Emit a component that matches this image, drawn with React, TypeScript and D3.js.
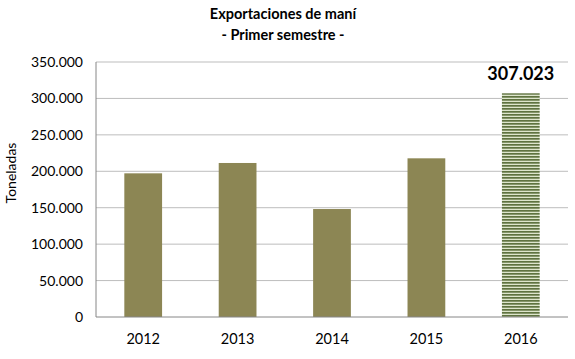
import React from "react";
import * as d3 from "d3";

const years = ["2012", "2013", "2014", "2015", "2016"];
const values = [197200, 211400, 148200, 217800, 307023];
const yTicks = [0, 50000, 100000, 150000, 200000, 250000, 300000, 350000];
const highlightLabel = "307.023";

const W = 575, H = 359;
const left = 96, right = 568, top = 62, bottom = 317;

const fmt = (v: number) => (v === 0 ? "0" : d3.format(",")(v).replace(/,/g, "."));

export default function App() {
  const x = d3.scaleBand<string>().domain(years).range([left, right]).paddingInner(0.6).paddingOuter(0.3);
  const y = d3.scaleLinear().domain([0, 350000]).range([bottom, top]);
  const font = "Lato, 'Open Sans', sans-serif";
  return (
    <svg width={W} height={H} style={{ position: "absolute", left: 0, top: 0, background: "#fff" }}>
      <defs>
        <pattern id="stripes" width="6" height="3" patternUnits="userSpaceOnUse">
          <rect x="0" y="0" width="6" height="3" fill="#dde5cc" />
          <rect x="0" y="0" width="6" height="1.7" fill="#5f7340" />
        </pattern>
      </defs>
      <text x={283} y={19} textAnchor="middle" fontFamily={font} fontWeight="bold" fontSize={14.5} fill="#000">Exportaciones de maní</text>
      <text x={283} y={40} textAnchor="middle" fontFamily={font} fontWeight="bold" fontSize={14.5} fill="#000">- Primer semestre -</text>
      {yTicks.map((t) => (
        <g key={t}>
          {t > 0 && <line x1={left} x2={right} y1={y(t)} y2={y(t)} stroke="#bdbdbd" strokeWidth={1} />}
          <text x={83} y={y(t) + 5} textAnchor="end" fontFamily={font} fontSize={14} fill="#000">{fmt(t)}</text>
        </g>
      ))}
      <text transform={`translate(16,173) rotate(-90)`} textAnchor="middle" fontFamily={font} fontSize={14} fill="#000">Toneladas</text>
      {years.map((yr, i) => (
        <g key={yr}>
          <rect x={x(yr)} y={y(values[i])} width={x.bandwidth()} height={bottom - y(values[i])}
            fill={i === years.length - 1 ? "url(#stripes)" : "#8c8654"} />
          <text x={(x(yr) as number) + x.bandwidth() / 2} y={344} textAnchor="middle" fontFamily={font} fontSize={14.5} fill="#000">{yr}</text>
        </g>
      ))}
      <text x={(x("2016") as number) + x.bandwidth() / 2} y={80} textAnchor="middle" fontFamily={font} fontWeight="bold" fontSize={18} fill="#000">{highlightLabel}</text>
      <line x1={left} x2={left} y1={top} y2={bottom} stroke="#868686" />
      <line x1={left} x2={right} y1={bottom} y2={bottom} stroke="#868686" />
    </svg>
  );
}
